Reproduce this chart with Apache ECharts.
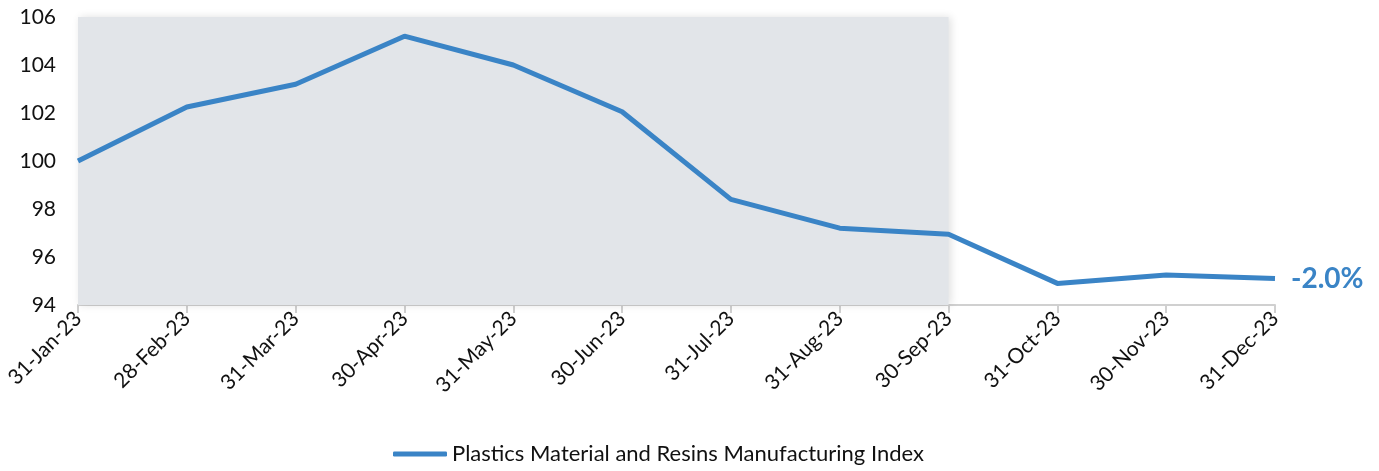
<!DOCTYPE html>
<html><head><meta charset="utf-8">
<script src="https://cdn.jsdelivr.net/npm/echarts@6/dist/echarts.min.js"></script>
<style>html,body{margin:0;padding:0;background:#fff}#c{width:1379px;height:471px}</style>
</head><body><div id="c"></div>
<script>
const categories = ['31-Jan-23','28-Feb-23','31-Mar-23','30-Apr-23','31-May-23','30-Jun-23','31-Jul-23','31-Aug-23','30-Sep-23','31-Oct-23','30-Nov-23','31-Dec-23'];
const indexValues = [100.0, 102.25, 103.2, 105.2, 104.0, 102.05, 98.4, 97.2, 96.95, 94.9, 95.25, 95.1];
const seriesName = 'Plastics Material and Resins Manufacturing Index';
const endLabelText = '-2.0%';
const shadeFrom = '31-Jan-23', shadeTo = '30-Sep-23';
const yTicks = {min: 94, max: 106, interval: 2};

const font = 'Lato, "Open Sans", sans-serif';
const chart = echarts.init(document.getElementById('c'));
chart.setOption({
  animation: false,
  grid: {left: 78, right: 104, top: 17, bottom: 166, containLabel: false},
  legend: {
    bottom: 1, left: 388, itemWidth: 54, itemHeight: 5, itemGap: 6,
    icon: 'roundRect',
    textStyle: {fontFamily: font, fontSize: 22, color: '#111'},
    data: [seriesName]
  },
  xAxis: {
    type: 'category', data: categories, boundaryGap: false,
    axisLine: {lineStyle: {color: '#d0d0d0', width: 2}},
    axisTick: {show: true, alignWithLabel: true, length: 8, lineStyle: {color: '#d0d0d0', width: 2}},
    axisLabel: {rotate: 45, fontFamily: font, fontSize: 21, color: '#111', margin: 10}
  },
  yAxis: {
    type: 'value', min: yTicks.min, max: yTicks.max, interval: yTicks.interval,
    axisLine: {show: false}, axisTick: {show: false}, splitLine: {show: false},
    axisLabel: {fontFamily: font, fontSize: 21, color: '#111', margin: 22}
  },
  series: [{
    name: seriesName, type: 'line', data: indexValues, symbol: 'none', clip: false,
    lineStyle: {color: '#3a84c6', width: 5},
    itemStyle: {color: '#3a84c6'},
    endLabel: {show: true, formatter: endLabelText, fontFamily: font, fontSize: 28, fontWeight: 'bold', color: '#3a84c6', offset: [8, 0]},
    markArea: {
      silent: true,
      itemStyle: {color: '#e2e5e9', shadowBlur: 8, shadowColor: 'rgba(0,0,0,0.12)', shadowOffsetX: 2},
      data: [[{xAxis: shadeFrom, yAxis: 94}, {xAxis: shadeTo, yAxis: 106.3}]]
    }
  }]
});
</script></body></html>
